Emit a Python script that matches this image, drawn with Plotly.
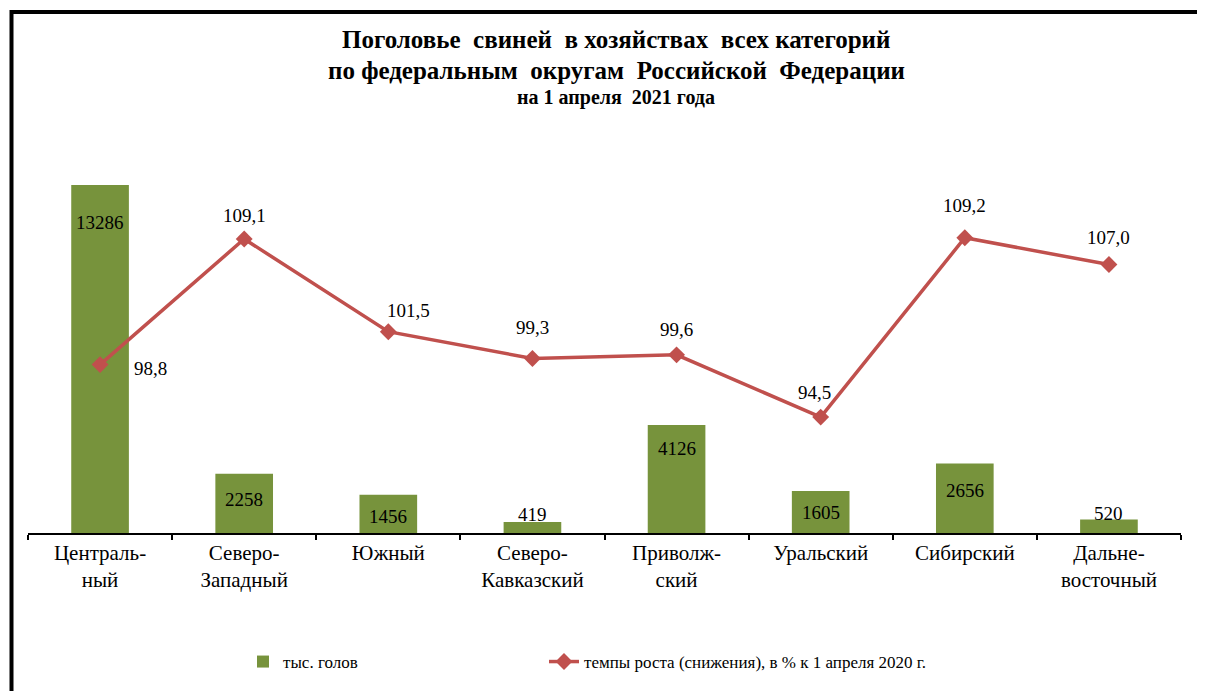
import plotly.graph_objects as go

categories = ["Централь-<br>ный", "Северо-<br>Западный", "Южный", "Северо-<br>Кавказский",
              "Приволж-<br>ский", "Уральский", "Сибирский", "Дальне-<br>восточный"]
heads = [13286, 2258, 1456, 419, 4126, 1605, 2656, 520]
growth = [98.8, 109.1, 101.5, 99.3, 99.6, 94.5, 109.2, 107.0]
growth_labels = ["98,8", "109,1", "101,5", "99,3", "99,6", "94,5", "109,2", "107,0"]

# label placement styles (pixel shifts)
bar_label_shift = [-38, -26, -22, 8, -24, -22, -27, 6]
line_label_dx = [50, 0, 20, 0, 0, -6, 0, 0]
line_label_dy = [-4, 23, 21, 31, 25, 25, 32, 27]

OFF = 8  # browser body margin
W, H = 1205 - OFF, 691 - OFF
L, R, T, B = 28 - OFF, 24, 150 - OFF, 158
pw, ph = W - L - R, H - T - B

def px_x(px):
    return (px - OFF - L) / pw

def px_y(py):
    return (H - B - (py - OFF)) / ph

FONT = "Liberation Serif"
GREEN = "#77933C"
RED = "#C0504D"

fig = go.Figure()
fig.add_trace(go.Bar(
    x=categories, y=heads, name="тыс. голов",
    marker=dict(color=GREEN, line=dict(width=0)),
    yaxis="y", showlegend=True, legend="legend",
))
fig.add_trace(go.Scatter(
    x=categories, y=growth, name="темпы роста (снижения), в % к 1 апреля 2020 г.",
    mode="lines+markers",
    line=dict(color=RED, width=3.5),
    marker=dict(symbol="diamond", size=13, color=RED),
    yaxis="y2", cliponaxis=False, legend="legend2",
))

annotations = []
for c, v, s in zip(categories, heads, bar_label_shift):
    annotations.append(dict(
        x=c, y=v, xref="x", yref="y", text=str(v), showarrow=False,
        yanchor="middle", yshift=s,
        font=dict(family=FONT, size=19, color="black"),
    ))
for c, v, t, dx, dy in zip(categories, growth, growth_labels, line_label_dx, line_label_dy):
    annotations.append(dict(
        x=c, y=v, xref="x", yref="y2", text=t, showarrow=False,
        yanchor="middle", xanchor="center", xshift=dx, yshift=dy,
        font=dict(family=FONT, size=19, color="black"),
    ))

title_lines = [
    ("Поголовье&nbsp; свиней&nbsp; в хозяйствах&nbsp; всех категорий", 40, 25),
    ("по федеральным&nbsp; округам&nbsp; Российской&nbsp; Федерации", 70, 25),
    ("на 1 апреля&nbsp; 2021 года", 97, 20),
]
for txt, py, sz in title_lines:
    annotations.append(dict(
        x=px_x(616), y=px_y(py), xref="paper", yref="paper",
        text="<b>" + txt + "</b>", showarrow=False,
        xanchor="center", yanchor="middle",
        font=dict(family=FONT, size=sz, color="black"),
    ))

frame_path = "M {x0},{yb} L {x0},{yt} L {xr},{yt}".format(
    x0=px_x(11.5), yb=px_y(691 + 10), yt=px_y(12), xr=px_x(1205 + 10))

legend_style = dict(
    orientation="h", yanchor="middle", xanchor="left",
    font=dict(family=FONT, size=17, color="black"),
    bgcolor="rgba(0,0,0,0)",
)

fig.update_layout(
    width=W, height=H,
    margin=dict(l=L, r=R, t=T, b=B, autoexpand=False),
    paper_bgcolor="white", plot_bgcolor="white",
    font=dict(family=FONT, color="black"),
    bargap=0.6,
    xaxis=dict(
        showline=True, linecolor="black", linewidth=1.5,
        ticks="outside", ticklen=5, tickwidth=1.5, tickcolor="black",
        tickson="boundaries", showgrid=False,
        tickfont=dict(family=FONT, size=21, color="black"),
    ),
    yaxis=dict(range=[0, 14622], visible=False, showgrid=False),
    yaxis2=dict(range=[85, 116.39], overlaying="y", side="right",
                visible=False, showgrid=False),
    legend=dict(x=px_x(243), y=px_y(662), **legend_style),
    legend2=dict(x=px_x(544), y=px_y(662), **legend_style),
    annotations=annotations,
    shapes=[dict(type="path", path=frame_path, xref="paper", yref="paper",
                 line=dict(color="black", width=4))],
)

fig.write_html("out.html")
